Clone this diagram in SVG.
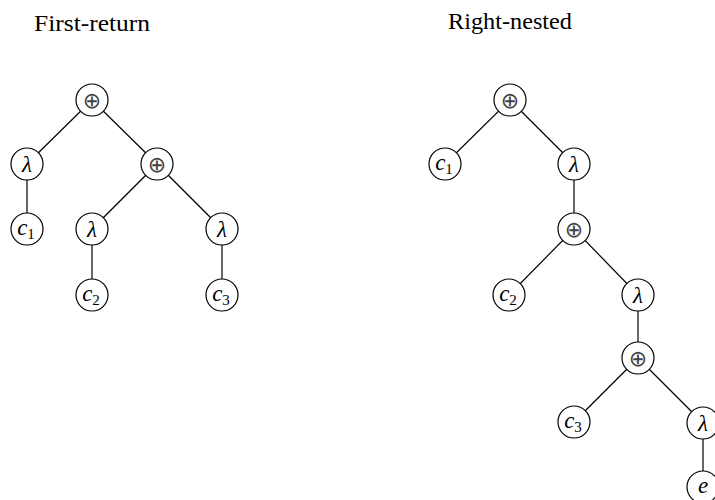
<svg xmlns="http://www.w3.org/2000/svg" width="715" height="500" viewBox="0 0 715 500">
<style>
.title{font-family:"Liberation Serif","DejaVu Serif",serif;font-size:23px;fill:#000}
.n circle{fill:#fff;stroke:#000;stroke-width:1.2}
.lab{font-family:"Liberation Serif","DejaVu Serif",serif;font-style:italic;font-size:23px;fill:#000;text-anchor:middle}
.op{font-family:"DejaVu Sans",sans-serif;font-size:22px;fill:#444;text-anchor:middle}
.sub{font-style:normal;font-size:15px}
#edges line{stroke:#000;stroke-width:1.2}
</style>
<rect width="715" height="500" fill="#fff"/>
<text class="title" x="34" y="31" textLength="116" lengthAdjust="spacingAndGlyphs">First-return</text>
<text class="title" x="448" y="29" textLength="124" lengthAdjust="spacingAndGlyphs">Right-nested</text>
<g id="edges">
<line x1="92" y1="100" x2="27" y2="164"/>
<line x1="92" y1="100" x2="157" y2="164"/>
<line x1="27" y1="164" x2="27" y2="229"/>
<line x1="157" y1="164" x2="92" y2="229"/>
<line x1="157" y1="164" x2="222" y2="229"/>
<line x1="92" y1="229" x2="92" y2="295"/>
<line x1="222" y1="229" x2="222" y2="295"/>
<line x1="510" y1="100" x2="445" y2="164"/>
<line x1="510" y1="100" x2="574" y2="164"/>
<line x1="574" y1="164" x2="574" y2="229"/>
<line x1="574" y1="229" x2="509" y2="295"/>
<line x1="574" y1="229" x2="638" y2="295"/>
<line x1="638" y1="295" x2="638" y2="358"/>
<line x1="638" y1="358" x2="574" y2="422"/>
<line x1="638" y1="358" x2="703" y2="423"/>
<line x1="703" y1="423" x2="703" y2="487"/>
</g>
<g id="L_root" class="n"><circle cx="92" cy="100" r="16"/><text class="op" x="92" y="108">⊕</text></g>
<g id="L_lam1" class="n"><circle cx="27" cy="164" r="16"/><text class="lab" x="27" y="172">λ</text></g>
<g id="L_plus" class="n"><circle cx="157" cy="164" r="16"/><text class="op" x="157" y="172">⊕</text></g>
<g id="L_c1" class="n"><circle cx="27" cy="229" r="16"/><text class="lab" x="26" y="235">c<tspan class="sub" dy="4">1</tspan></text></g>
<g id="L_lam2" class="n"><circle cx="92" cy="229" r="16"/><text class="lab" x="92" y="237">λ</text></g>
<g id="L_lam3" class="n"><circle cx="222" cy="229" r="16"/><text class="lab" x="222" y="237">λ</text></g>
<g id="L_c2" class="n"><circle cx="92" cy="295" r="16"/><text class="lab" x="91" y="301">c<tspan class="sub" dy="4">2</tspan></text></g>
<g id="L_c3" class="n"><circle cx="222" cy="295" r="16"/><text class="lab" x="221" y="301">c<tspan class="sub" dy="4">3</tspan></text></g>
<g id="R_root" class="n"><circle cx="510" cy="100" r="16"/><text class="op" x="510" y="108">⊕</text></g>
<g id="R_c1" class="n"><circle cx="445" cy="164" r="16"/><text class="lab" x="444" y="170">c<tspan class="sub" dy="4">1</tspan></text></g>
<g id="R_lam1" class="n"><circle cx="574" cy="164" r="16"/><text class="lab" x="574" y="172">λ</text></g>
<g id="R_plus1" class="n"><circle cx="574" cy="229" r="16"/><text class="op" x="574" y="237">⊕</text></g>
<g id="R_c2" class="n"><circle cx="509" cy="295" r="16"/><text class="lab" x="508" y="301">c<tspan class="sub" dy="4">2</tspan></text></g>
<g id="R_lam2" class="n"><circle cx="638" cy="295" r="16"/><text class="lab" x="638" y="303">λ</text></g>
<g id="R_plus2" class="n"><circle cx="638" cy="358" r="16"/><text class="op" x="638" y="366">⊕</text></g>
<g id="R_c3" class="n"><circle cx="574" cy="422" r="16"/><text class="lab" x="573" y="428">c<tspan class="sub" dy="4">3</tspan></text></g>
<g id="R_lam3" class="n"><circle cx="703" cy="423" r="16"/><text class="lab" x="703" y="431">λ</text></g>
<g id="R_e" class="n"><circle cx="703" cy="487" r="16"/><text class="lab" x="703" y="493">e</text></g>
</svg>
